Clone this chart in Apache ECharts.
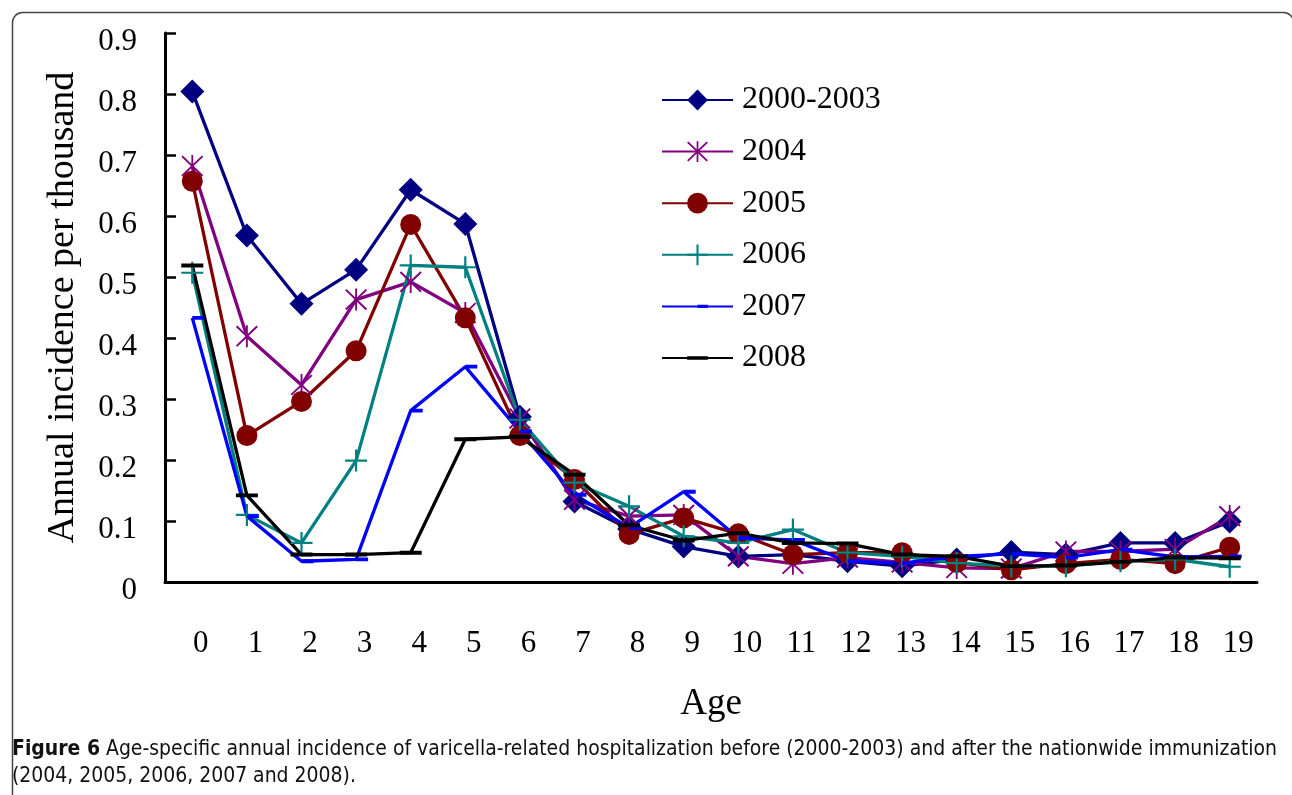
<!DOCTYPE html>
<html>
<head>
<meta charset="utf-8">
<script src="https://cdn.jsdelivr.net/npm/echarts@6/dist/echarts.min.js"></script>
<style>
html,body{margin:0;padding:0;background:#fff;}
#chart{width:1292px;height:795px;}
</style>
</head>
<body>
<div id="chart"></div>
<script>
// ---- data ----
const ages = ['0','1','2','3','4','5','6','7','8','9','10','11','12','13','14','15','16','17','18','19'];
const yTicks = [0, 0.9, 0.1];
const s2000_2003 = [0.804,0.568,0.456,0.512,0.643,0.587,0.271,0.132,0.087,0.058,0.042,0.045,0.034,0.026,0.037,0.049,0.045,0.064,0.064,0.099];
const s2004 = [0.682,0.403,0.323,0.463,0.492,0.441,0.268,0.135,0.108,0.110,0.042,0.030,0.040,0.032,0.023,0.022,0.050,0.050,0.054,0.108];
const s2005 = [0.657,0.240,0.296,0.379,0.586,0.433,0.240,0.168,0.078,0.105,0.079,0.045,0.048,0.048,0.032,0.020,0.030,0.037,0.030,0.057];
const s2006 = [0.507,0.110,0.064,0.199,0.519,0.516,0.266,0.163,0.124,0.075,0.064,0.086,0.048,0.042,0.031,0.026,0.026,0.034,0.037,0.025];
const s2007 = [0.433,0.108,0.034,0.037,0.281,0.353,0.247,0.143,0.089,0.148,0.072,0.069,0.034,0.031,0.042,0.046,0.040,0.053,0.041,0.042];
const s2008 = [0.519,0.142,0.045,0.045,0.048,0.234,0.238,0.176,0.093,0.068,0.080,0.064,0.063,0.045,0.042,0.026,0.027,0.033,0.040,0.039];
const seriesNames = ['2000-2003','2004','2005','2006','2007','2008'];
const seriesData = [s2000_2003, s2004, s2005, s2006, s2007, s2008];
const captionBold = 'Figure 6';
const captionLine1 = ' Age-specific annual incidence of varicella-related hospitalization before (2000-2003) and after the nationwide immunization';
const captionLine2 = '(2004, 2005, 2006, 2007 and 2008).';

// ---- styles ----
const colors = ['#000080','#800080','#800000','#008080','#0000ff','#000000'];
const corner = 'M0,0 L0.01,0 L0,0.01 Z M100,100 L99.99,100 L100,99.99 Z ';
const symAsterisk = 'path://M46,0 L54,0 L54,100 L46,100 Z M2,8 L8,2 L98,92 L92,98 Z M92,2 L98,8 L8,98 L2,92 Z';
const symPlus = 'path://M45,0 L55,0 L55,100 L45,100 Z M0,45 L100,45 L100,55 L0,55 Z';
const symDashRight = 'path://' + corner + 'M50,42 L100,42 L100,58 L50,58 Z';
const symDash = 'path://' + corner + 'M0,41 L100,41 L100,59 L0,59 Z';
const symbols = ['diamond', symAsterisk, 'circle', symPlus, symDashRight, symDash];
const symbolSizes = [24, 22, 21, 22, 24, 22];
const serif = '"Liberation Serif","Times New Roman",serif';
const sans = '"Liberation Sans Narrow","DejaVu Sans Condensed","Open Sans",sans-serif';

// caption font size to fit width
const cv = document.createElement('canvas').getContext('2d');
cv.font = 'bold 16px ' + sans;
let w = cv.measureText(captionBold).width;
cv.font = '16px ' + sans;
w += cv.measureText(captionLine1).width;
const capSize = 16 * 1266 / w;

const chart = echarts.init(document.getElementById('chart'), null, {renderer:'canvas'});
const option = {
  animation: false,
  backgroundColor: '#fff',
  grid: {left: 165, right: 35, top: 33, bottom: 213, containLabel: false},
  legend: {
    orient: 'vertical', left: 661, top: 84, padding: 0,
    itemWidth: 71, itemHeight: 26, itemGap: 19.6,
    textStyle: {fontFamily: serif, fontSize: 32, color: '#000', padding: [0,0,0,4]},
    data: seriesNames
  },
  xAxis: {
    type: 'category', data: ages, boundaryGap: true,
    name: 'Age', nameLocation: 'middle', nameGap: 104,
    nameTextStyle: {fontFamily: serif, fontSize: 37, color: '#000'},
    axisLine: {lineStyle: {color: '#000', width: 3}},
    axisTick: {inside: true, length: 11, lineStyle: {color: '#000', width: 2.5}},
    axisLabel: {fontFamily: serif, fontSize: 31, color: '#000', margin: 46, padding: [0,0,0,17], interval: 0},
    splitLine: {show: false}
  },
  yAxis: {
    type: 'value', min: yTicks[0], max: yTicks[1], interval: yTicks[2],
    name: 'Annual incidence per thousand', nameLocation: 'middle', nameGap: 83,
    nameTextStyle: {fontFamily: serif, fontSize: 38, color: '#000'},
    axisLine: {show: true, lineStyle: {color: '#000', width: 3}},
    axisTick: {show: true, inside: true, length: 11, lineStyle: {color: '#000', width: 2.5}},
    axisLabel: {fontFamily: serif, fontSize: 31, color: '#000', margin: 28, align: 'right',
      verticalAlign: 'top', lineHeight: 18,
      formatter: v => (Math.round(v*10)/10).toString()},
    splitLine: {show: false}
  },
  series: seriesNames.map((n, i) => ({
    name: n, type: 'line', data: seriesData[i],
    symbol: symbols[i], symbolSize: symbolSizes[i],
    showAllSymbol: true,
    lineStyle: {color: colors[i], width: 3.3},
    itemStyle: {color: colors[i], borderWidth: 0},
    emphasis: {disabled: true}
  })),
  graphic: [
    {type: 'rect', left: 10, top: 10, silent: true, z: -1,
     shape: {width: 1281, height: 900, r: 10},
     style: {fill: 'none', stroke: '#444', lineWidth: 1.5}},
    {type: 'text', left: 12, top: 739,
     style: {
       text: '{b|' + captionBold + '}{n|' + captionLine1 + '}\n{n|' + captionLine2 + '}',
       rich: {
         b: {fontFamily: sans, fontWeight: 'bold', fontSize: capSize, fill: '#111', lineHeight: 27},
         n: {fontFamily: sans, fontSize: capSize, fill: '#111', lineHeight: 27}
       }
     }}
  ]
};
chart.setOption(option);
</script>
</body>
</html>
